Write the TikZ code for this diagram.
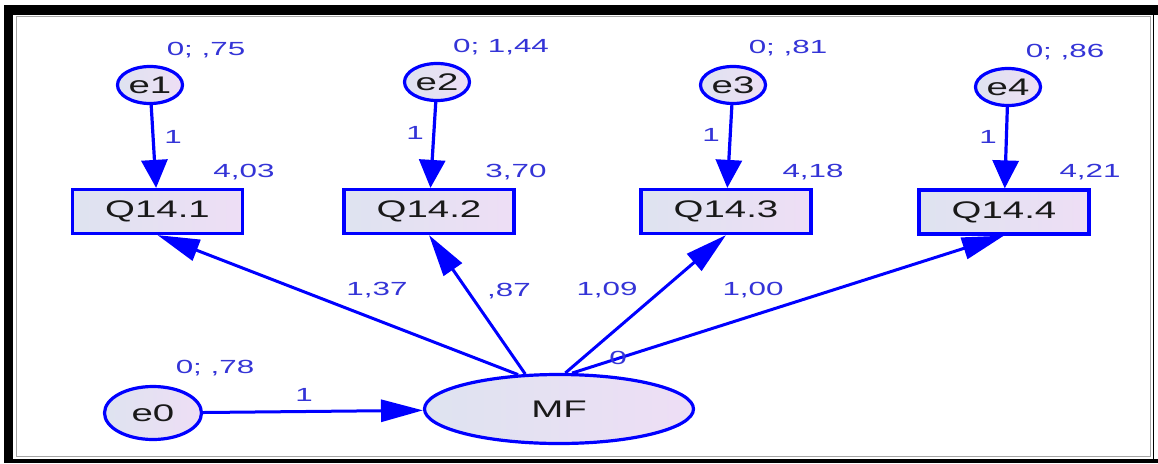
\documentclass[tikz,border=0pt]{standalone}
\usepackage{fontspec}
\setmainfont{Liberation Sans}
\newfontfamily\varfont[FakeStretch=1.6]{Liberation Sans}
\newfontfamily\estfont[FakeStretch=1.65]{Liberation Sans}
\usetikzlibrary{shapes.geometric,arrows.meta}
\definecolor{pathblue}{RGB}{0,0,255}
\definecolor{estblue}{RGB}{52,52,215}
\definecolor{fillL}{RGB}{222,227,240}
\definecolor{fillR}{RGB}{238,222,245}

\begin{document}
\begin{tikzpicture}[x=1pt,y=-1pt,
    base node/.style={draw=pathblue,line width=3.2pt,left color=fillL,right color=fillR,inner sep=0pt,text=black!90,font=\varfont\fontsize{24}{24}\selectfont},
    obs node/.style={base node,rectangle,minimum width=170pt,minimum height=44pt},
    err node/.style={base node,ellipse,minimum width=65pt,minimum height=37pt},
    lat node/.style={base node,ellipse,minimum width=269pt,minimum height=69pt},
    est/.style={text=estblue,inner sep=0pt,font=\estfont\fontsize{19}{19}\selectfont},
    err arrow/.style={draw,color=pathblue,line width=3.2pt,-{Triangle[length=28pt,width=26pt]}},
    path arrow/.style={draw,color=pathblue,line width=3pt,-{Triangle[length=42pt,width=22pt]}}]
    % frame
    \fill[white] (0,0) rectangle (1158,463);
    \fill[black] (4,5) rectangle (1158,15);
    \fill[black] (4,5) rectangle (13,463);
    \fill[black] (4,459) rectangle (1158,463);
    \fill[black] (1152.5,15) rectangle (1153.7,459);
    \draw[gray!70,line width=1pt] (16.5,16.5) rectangle (1150.5,456);
    \useasboundingbox (0,0) rectangle (1158,463);

    % observed variables
    \node[obs node] (Q1) at (157.5,211.5) {Q14.1};
    \node[obs node] (Q2) at (429,211.5) {Q14.2};
    \node[obs node] (Q3) at (726,211.5) {Q14.3};
    \node[obs node] (Q4) at (1004,212) {Q14.4};

    % errors
    \node[err node] (e1) at (150,85) {e1};
    \node[err node] (e2) at (437,82) {e2};
    \node[err node] (e3) at (733,85) {e3};
    \node[err node] (e4) at (1008,87) {e4};

    \node[lat node] (MF) at (559,409) {MF};
    \node[err node,minimum width=97pt,minimum height=53pt] (e0) at (153,413) {e0};

    \path[every edge/.style={err arrow}]
        (e1) edge (Q1)
        (e2) edge (Q2)
        (e3) edge (Q3)
        (e4) edge (Q4)
        ;
    \path[every edge/.style={path arrow}]
        (MF.140) edge (Q1.south)
        (MF.134) edge (Q2.south)
        (MF.80) edge (Q3.south)
        (MF.70) edge (Q4.south)
        (e0) edge (MF)
        ;

    % estimates
    \node[est] (v1) at (206,50) {0; ,75};
    \node[est] (v2) at (501,47) {0; 1,44};
    \node[est] (v3) at (788,48) {0; ,81};
    \node[est] (v4) at (1065,52) {0; ,86};
    \node[est] (i1) at (244,172) {4,03};
    \node[est] (i2) at (516,172) {3,70};
    \node[est] (i3) at (813,172) {4,18};
    \node[est] (i4) at (1090,172) {4,21};
    \node[est] (w1) at (173,137) {1};
    \node[est] (w2) at (415,133) {1};
    \node[est] (w3) at (711,135) {1};
    \node[est] (w4) at (988,137) {1};
    \node[est] (l1) at (377,290) {1,37};
    \node[est] (l2) at (509,291) {,87};
    \node[est] (l3) at (607,290) {1,09};
    \node[est] (l4) at (753,290) {1,00};
    \node[est] (m0) at (618,358) {0};
    \node[est] (v0) at (215,368) {0; ,78};
    \node[est] (w0) at (304,395) {1};
\end{tikzpicture}
\end{document}
